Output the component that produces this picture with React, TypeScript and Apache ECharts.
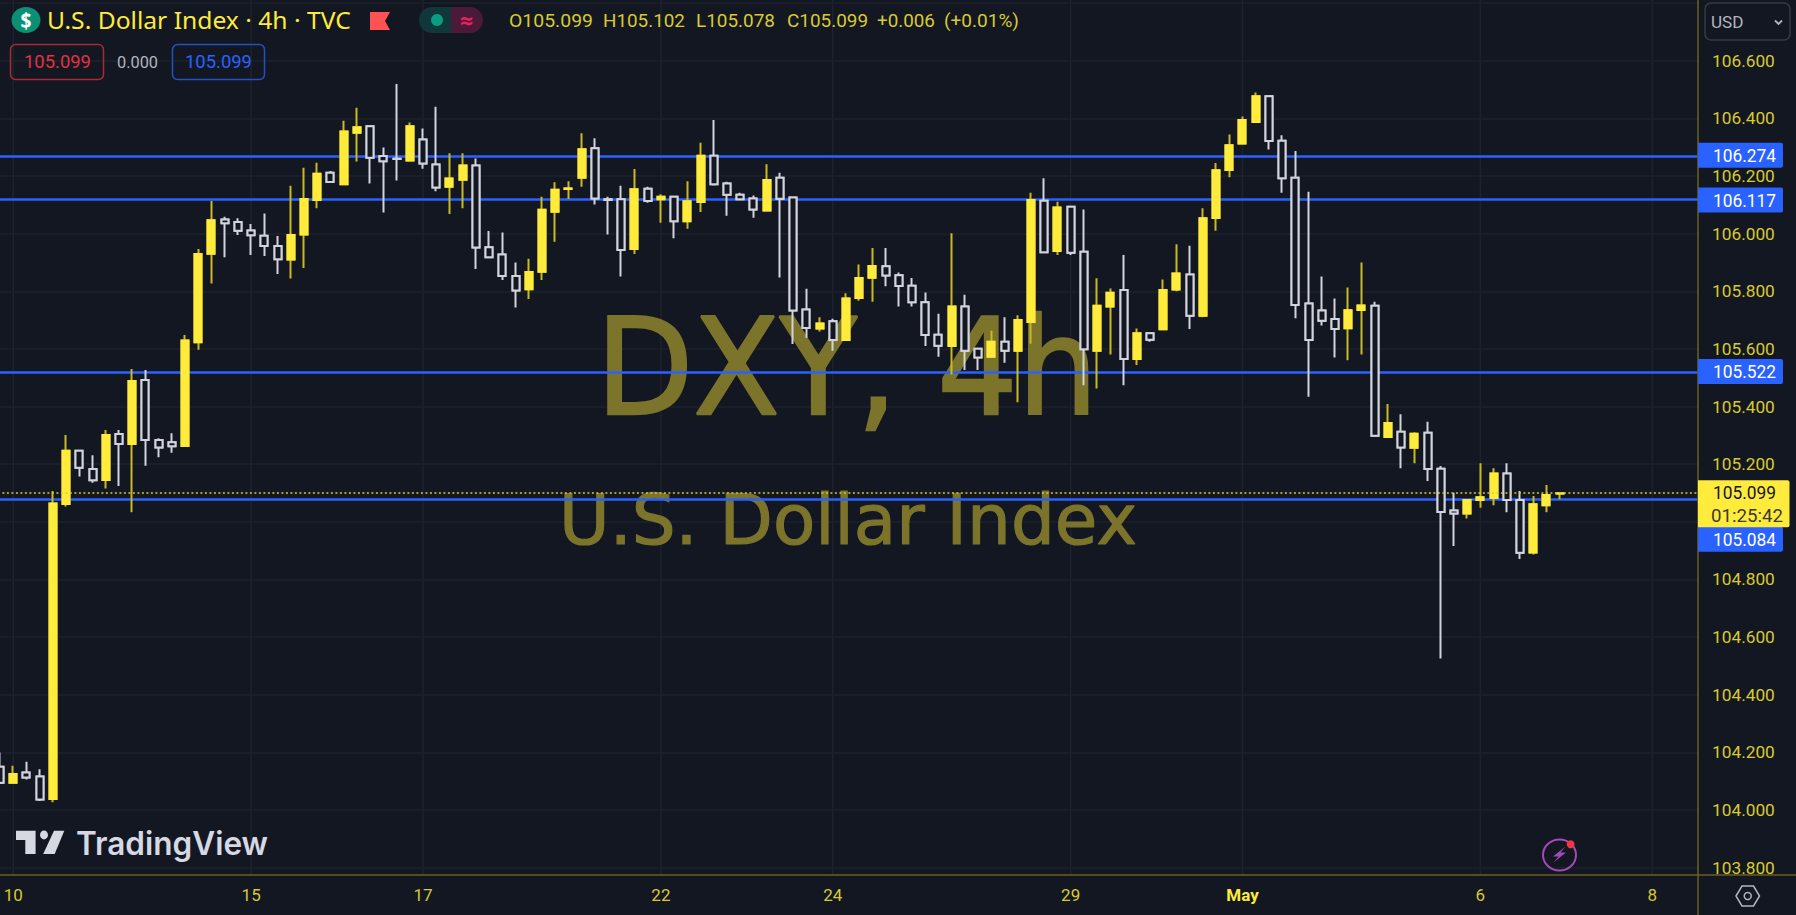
import React, { useEffect, useRef } from "react";
import * as echarts from "echarts";

const tickLabels = ["10", "15", "17", "22", "24", "29", "May", "6", "8"];
const tickIndexes = [1, 19, 32, 50, 63, 81, 94, 112, 125];
const slotCount = 129;

const opens = [104.15,104.095,104.13,104.116,104.038,105.062,105.247,105.183,105.145,105.305,105.27,105.492,105.284,105.276,105.263,105.623,105.93,106.049,106.04,106.011,105.993,105.957,105.91,105.997,106.117,106.211,106.171,106.35,106.373,106.269,106.26,106.254,106.327,106.24,106.163,106.187,106.236,105.953,105.928,105.853,105.807,105.868,106.076,106.155,106.194,106.296,106.119,106.119,105.947,106.156,106.119,106.128,106.043,106.11,106.27,106.174,106.135,106.122,106.08,106.194,106.125,105.737,105.671,105.696,105.631,105.777,105.847,105.887,105.856,105.819,105.762,105.649,105.61,105.747,105.601,105.573,105.625,105.594,105.693,106.114,105.94,106.093,105.937,105.594,105.747,105.804,105.565,105.654,105.668,105.806,105.858,105.715,106.054,106.221,106.313,106.387,106.477,106.322,106.194,105.758,105.733,105.704,105.672,105.735,105.75,105.294,105.313,105.257,105.309,105.184,105.039,105.029,105.076,105.083,105.168,105.076,104.894,105.058,105.098];
const closes = [104.095,104.125,104.113,104.037,105.064,105.247,105.188,105.144,105.301,105.27,105.489,105.284,105.258,105.262,105.629,105.929,106.046,106.036,106.01,105.994,105.957,105.911,105.995,106.12,106.208,106.179,106.354,106.369,106.263,106.251,106.259,106.373,106.243,106.16,106.191,106.236,105.952,105.918,105.853,105.803,105.867,106.083,106.152,106.157,106.293,106.122,106.117,105.943,106.154,106.113,106.128,106.043,106.112,106.27,106.171,106.135,106.119,106.084,106.186,106.121,105.733,105.673,105.688,105.631,105.775,105.846,105.888,105.855,105.818,105.762,105.648,105.611,105.747,105.594,105.57,105.625,105.594,105.7,106.117,105.935,106.091,105.934,105.599,105.75,105.795,105.565,105.654,105.632,105.804,105.862,105.715,106.053,106.22,106.307,106.394,106.477,106.321,106.192,105.752,105.631,105.698,105.669,105.734,105.751,105.299,105.343,105.258,105.306,105.183,105.034,105.029,105.076,105.085,105.168,105.076,104.893,105.061,105.093,105.099];
const lows = [104.09,104.095,104.106,104.031,104.027,105.053,105.157,105.136,105.116,105.124,105.033,105.195,105.224,105.24,105.262,105.597,105.827,105.918,105.995,105.926,105.922,105.86,105.844,105.881,106.088,106.178,106.171,106.25,106.174,106.073,106.184,106.25,106.225,106.147,106.068,106.088,105.877,105.917,105.839,105.744,105.773,105.839,105.972,106.12,106.163,106.101,105.997,105.851,105.929,106.107,106.038,105.984,106.017,106.075,106.167,106.062,106.119,106.055,106.079,105.848,105.617,105.639,105.66,105.594,105.628,105.767,105.764,105.817,105.747,105.747,105.61,105.573,105.511,105.527,105.527,105.573,105.552,105.415,105.618,105.935,105.926,105.926,105.474,105.463,105.581,105.474,105.544,105.625,105.668,105.8,105.669,105.71,106.01,106.196,106.313,106.387,106.292,106.142,105.706,105.434,105.681,105.57,105.561,105.581,105.298,105.294,105.186,105.203,105.142,104.526,104.916,105.012,105.049,105.058,105.033,104.871,104.887,105.033,105.078];
const highs = [104.2,104.154,104.168,104.142,105.107,105.301,105.25,105.231,105.319,105.319,105.53,105.527,105.29,105.307,105.648,105.947,106.113,106.059,106.053,106.033,106.07,105.992,106.166,106.229,106.246,106.217,106.392,106.437,106.374,106.299,106.519,106.386,106.365,106.44,106.279,106.279,106.261,106.009,106.004,105.9,105.913,106.128,106.178,106.182,106.348,106.331,106.128,106.166,106.224,106.163,106.137,106.13,106.182,106.315,106.394,106.18,106.142,106.132,106.241,106.211,106.128,105.809,105.71,105.705,105.793,105.893,105.95,105.95,105.865,105.846,105.796,105.722,106.001,105.788,105.601,105.663,105.71,105.717,106.142,106.192,106.111,106.096,106.084,105.845,105.81,105.926,105.671,105.654,105.841,105.963,105.958,106.088,106.245,106.344,106.406,106.49,106.478,106.341,106.287,106.145,105.851,105.775,105.813,105.9,105.764,105.409,105.373,105.311,105.347,105.194,105.101,105.077,105.203,105.186,105.203,105.107,105.09,105.128,105.102];

const levels = [106.274, 106.117, 105.522, 105.084];
const levelOffsets = [0.7, 0, 0, 41.6];
const lastPrice = 105.099;
const countdown = "01:25:42";
const ohlcTexts = ["O105.099", "H105.102", "L105.078", "C105.099", "+0.006", "(+0.01%)"];

const BG = "#131722";
const GRID = "#1e222d";
const AXIS = "#6a6222";
const TICK = "#d8ca30";
const YELLOW = "#ffeb3b";
const WICK = "#c9ba22";
const WHITE = "#d1d4dc";
const BLUE = "#2962ff";
const WM = "#7d742c";

const measure = document.createElement("canvas").getContext("2d")!;

function label(text: string, x: number, y: number, w: number | null, font: string, fill: string, z = 40, strokeWidth = 0): any {
  measure.font = font;
  const scaleX = w ? w / measure.measureText(text).width : 1;
  return {
    type: "text", x, y, scaleX, z, silent: true,
    style: {
      text, x: 0, y: 0, font, fill,
      stroke: strokeWidth ? fill : undefined,
      lineWidth: strokeWidth,
      align: "left", textAlign: "left", verticalAlign: "middle", textVerticalAlign: "middle",
    },
  };
}

export default function App() {
  const ref = useRef<HTMLDivElement>(null);
  useEffect(() => {
    const chart = echarts.init(ref.current!, null, { renderer: "svg" });
    const categories = Array.from({ length: slotCount }, (_, i) => {
      const k = tickIndexes.indexOf(i);
      return k >= 0 ? tickLabels[k] : "";
    });
    const bodyOf = (i: number) => [opens[i], closes[i], Math.min(opens[i], closes[i]), Math.max(opens[i], closes[i])];
    const sharedStyle = { color: YELLOW, color0: BG, borderWidth: 2 };
    chart.setOption({
      animation: false,
      backgroundColor: BG,
      grid: { left: -6.6, width: 1705.1, top: 3.06, bottom: 47.3, outerBoundsMode: "none" },
      xAxis: {
        type: "category",
        data: categories,
        boundaryGap: true,
        axisLine: { show: false },
        axisTick: { show: false },
        splitLine: { show: false },
        axisLabel: {
          show: true,
          interval: (i: number) => tickIndexes.includes(i),
          margin: 19,
          color: TICK,
          fontSize: 17,
          fontFamily: "Roboto",
          formatter: (v: string) => (v === "May" ? "{b|May}" : v),
          rich: { b: { color: YELLOW, fontSize: 17, fontWeight: "bold", fontFamily: "Roboto" } },
        },
      },
      yAxis: {
        type: "value",
        position: "right",
        min: 103.8,
        max: 106.8,
        interval: 0.2,
        axisLine: { show: false },
        axisTick: { show: false },
        splitLine: { show: true, lineStyle: { color: GRID, width: 1.5 } },
        axisLabel: {
          margin: 13.5,
          color: TICK,
          fontSize: 17.3,
          fontFamily: "Roboto",
          formatter: (v: number) => (v > 106.7 ? "" : v.toFixed(3)),
        },
      },
      series: [
        {
          type: "line", data: [], silent: true, z: 3,
          markLine: {
            z: 3, silent: true, symbol: "none", animation: false, label: { show: false },
            lineStyle: { color: BLUE, width: 2.6, type: "solid" },
            data: levels.map((v) => ({ yAxis: v })),
          },
        },
        {
          name: "wicks", type: "candlestick", z: 10, barWidth: 7.5, silent: true,
          data: opens.map((o, i) => [o, closes[i], lows[i], highs[i]]),
          itemStyle: { ...sharedStyle, borderColor: WICK, borderColor0: WHITE },
        },
        {
          name: "bodies", type: "candlestick", z: 11, barWidth: 7.5, silent: true,
          data: opens.map((_, i) => bodyOf(i)),
          itemStyle: { ...sharedStyle, borderColor: YELLOW, borderColor0: WHITE },
        },
        {
          type: "line", data: [], silent: true, z: 20,
          markLine: {
            z: 20, silent: true, symbol: "none", animation: false, label: { show: false },
            lineStyle: { color: TICK, width: 1.5, type: [2, 2.5] },
            data: [{ yAxis: lastPrice }],
          },
        },
      ],
    });

    const px = (i: number) => chart.convertToPixel({ xAxisIndex: 0 }, i) as number;
    const py = (v: number) => chart.convertToPixel({ yAxisIndex: 0 }, v) as number;
    const els: any[] = [];

    // vertical grid and axis borders
    tickIndexes.forEach((i) =>
      els.push({ type: "line", z: 0, silent: true, shape: { x1: px(i), y1: 0, x2: px(i), y2: 875 }, style: { stroke: GRID, lineWidth: 1.5 } })
    );
    els.push({ type: "line", z: 30, silent: true, shape: { x1: 0, y1: 875, x2: 1796, y2: 875 }, style: { stroke: AXIS, lineWidth: 1.5 } });
    els.push({ type: "line", z: 30, silent: true, shape: { x1: 1698, y1: 0, x2: 1698, y2: 915 }, style: { stroke: AXIS, lineWidth: 1.5 } });

    // watermark
    els.push(label("DXY, 4h", 596, 368, 502, "134px 'DejaVu Sans'", WM, 1, 2.5));
    els.push(label("U.S. Dollar Index", 559, 519, 578, "70px 'DejaVu Sans'", WM, 1, 1.2));

    // header
    els.push({ type: "ellipse", z: 40, silent: true, shape: { cx: 26, cy: 20, rx: 14.5, ry: 13 }, style: { fill: "#0b8f75" } });
    els.push(label("$", 20.5, 20, 11, "bold 21px 'Noto Sans'", "#ffffff", 41));
    els.push(label("U.S. Dollar Index · 4h · TVC", 47, 20, 304, "23px 'Noto Sans'", YELLOW));
    els.push({ type: "polygon", z: 40, silent: true, shape: { points: [[370, 12], [390, 12], [385, 21], [390, 30], [370, 30]] }, style: { fill: "#ff5252" } });
    els.push({ type: "rect", z: 40, silent: true, shape: { x: 419, y: 7, width: 32, height: 26, r: [13, 0, 0, 13] }, style: { fill: "#10383a" } });
    els.push({ type: "rect", z: 40, silent: true, shape: { x: 451, y: 7, width: 32, height: 26, r: [0, 13, 13, 0] }, style: { fill: "#4b1a38" } });
    els.push({ type: "circle", z: 41, silent: true, shape: { cx: 437, cy: 20, r: 6 }, style: { fill: "#0a9c80" } });
    els.push(label("≈", 459, 20, 15, "bold 22px 'DejaVu Sans'", "#e91e63", 41));
    const ohlcX = [509, 603, 696, 787, 877, 944];
    const ohlcW = [84, 82, 79, 81, 58, 75];
    ohlcTexts.forEach((t, i) => els.push(label(t, ohlcX[i], 21, ohlcW[i], "18px Roboto", TICK)));

    els.push({ type: "rect", z: 40, silent: true, shape: { x: 10.5, y: 44.5, width: 93, height: 35, r: 5 }, style: { fill: "none", stroke: "#a92a35", lineWidth: 1.5 } });
    els.push(label("105.099", 24, 62, 67, "18px Roboto", "#e0323f"));
    els.push(label("0.000", 117, 62, 41, "17px Roboto", "#b2b5be"));
    els.push({ type: "rect", z: 40, silent: true, shape: { x: 172.5, y: 44.5, width: 92, height: 35, r: 5 }, style: { fill: "none", stroke: "#2450c0", lineWidth: 1.5 } });
    els.push(label("105.099", 185, 62, 67, "18px Roboto", BLUE));

    // currency selector
    els.push({ type: "rect", z: 40, silent: true, shape: { x: 1705, y: 3, width: 85, height: 37, r: 6 }, style: { fill: BG, stroke: "#363a45", lineWidth: 1.5 } });
    els.push(label("USD", 1711, 22, 32.5, "17px Roboto", "#b2b5be"));
    els.push({ type: "polyline", z: 40, silent: true, shape: { points: [[1775, 20.5], [1778.5, 24], [1782, 20.5]] }, style: { fill: "none", stroke: "#b2b5be", lineWidth: 1.8 } });

    // price tags
    levels.forEach((v, i) => {
      const c = py(v) + levelOffsets[i];
      els.push({ type: "rect", z: 50, silent: true, shape: { x: 1698, y: c - 12.5, width: 85, height: 25, r: [0, 2, 2, 0] }, style: { fill: BLUE } });
      els.push(label(v.toFixed(3), 1713, c + 0.5, 63, "18px Roboto", "#ffffff", 51));
    });
    const lastY = py(lastPrice);
    els.push({ type: "rect", z: 52, silent: true, shape: { x: 1698, y: lastY - 13, width: 91.5, height: 47, r: [0, 2, 2, 0] }, style: { fill: YELLOW } });
    els.push(label(lastPrice.toFixed(3), 1713, lastY, 63, "18px Roboto", BG, 53));
    els.push(label(countdown, 1711, lastY + 22, 72, "18px Roboto", "#3a3a30", 53));

    // TradingView logo
    els.push({ type: "polygon", z: 40, silent: true, shape: { points: [[16, 830.7], [35.6, 830.7], [35.6, 854], [25.3, 854], [25.3, 840], [16, 840]] }, style: { fill: "#d6d8e2" } });
    els.push({ type: "ellipse", z: 40, silent: true, shape: { cx: 44, cy: 835, rx: 4, ry: 4.4 }, style: { fill: "#d6d8e2" } });
    els.push({ type: "polygon", z: 40, silent: true, shape: { points: [[54, 830.7], [64.3, 830.7], [54.7, 854], [43.2, 854]] }, style: { fill: "#d6d8e2" } });
    els.push(label("TradingView", 76, 843, 192, "600 32px Inter", "#d6d8e2"));

    // bolt icon
    els.push({ type: "ellipse", z: 40, silent: true, shape: { cx: 1559.5, cy: 855, rx: 16.5, ry: 15.5 }, style: { fill: "none", stroke: "#a24ab8", lineWidth: 2 } });
    els.push({ type: "polygon", z: 41, silent: true, shape: { points: [[1565.5, 846.5], [1553, 856.5], [1558.5, 856.5], [1553.5, 862.5], [1566, 852.5], [1560.5, 852.5]] }, style: { fill: "#a24ab8" } });
    els.push({ type: "circle", z: 42, silent: true, shape: { cx: 1570.6, cy: 844.3, r: 4 }, style: { fill: "#f23645" } });

    // settings icon
    els.push({ type: "polygon", z: 40, silent: true, shape: { points: [[1736, 896], [1742, 886], [1753.5, 886], [1759.5, 896], [1753.5, 906], [1742, 906]] }, style: { fill: "none", stroke: "#b2b5be", lineWidth: 1.5 } });
    els.push({ type: "circle", z: 40, silent: true, shape: { cx: 1747.7, cy: 896, r: 3.5 }, style: { fill: "none", stroke: "#b2b5be", lineWidth: 1.5 } });

    chart.setOption({ graphic: { elements: els } });
    return () => chart.dispose();
  }, []);
  return <div ref={ref} style={{ position: "fixed", left: 0, top: 0, width: 1796, height: 915 }} />;
}
